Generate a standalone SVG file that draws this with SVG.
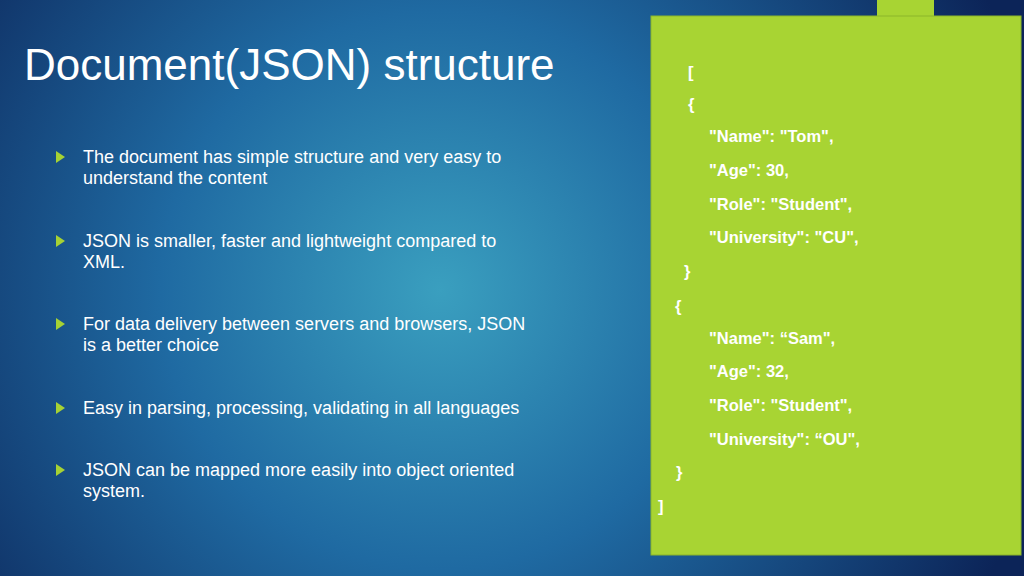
<svg xmlns="http://www.w3.org/2000/svg" width="1024" height="576" viewBox="0 0 1024 576">
<defs>
<radialGradient id="bg" cx="440" cy="290" r="620" gradientUnits="userSpaceOnUse">
<stop offset="0" stop-color="#3a9fbf"/>
<stop offset="0.45" stop-color="#1f6aa2"/>
<stop offset="1" stop-color="#0c2458"/>
</radialGradient>
<style>
.b{font-family:"Liberation Sans",Arial,sans-serif;font-size:18px;fill:#fff}
.j{font-family:"Liberation Sans",Arial,sans-serif;font-size:16.5px;font-weight:bold;fill:#fff}
.t{fill:#a6d234}
</style>
</defs>
<rect width="1024" height="576" fill="url(#bg)"/>
<text x="24" y="80" font-family="'Liberation Sans',Arial,sans-serif" font-size="44" fill="#fff">Document(JSON) structure</text>
<g id="bullets">
<polygon class="t" points="56,151 56,163 65,157"/>
<text class="b" x="83" y="163">The document has simple structure and very easy to</text>
<text class="b" x="83" y="184">understand the content</text>
<polygon class="t" points="56,235 56,247 65,241"/>
<text class="b" x="83" y="247">JSON is smaller, faster and lightweight compared to</text>
<text class="b" x="83" y="268">XML.</text>
<polygon class="t" points="56,318 56,330 65,324"/>
<text class="b" x="83" y="330">For data delivery between servers and browsers, JSON</text>
<text class="b" x="83" y="351">is a better choice</text>
<polygon class="t" points="56,402 56,414 65,408"/>
<text class="b" x="83" y="414">Easy in parsing, processing, validating in all languages</text>
<polygon class="t" points="56,464 56,476 65,470"/>
<text class="b" x="83" y="476">JSON can be mapped more easily into object oriented</text>
<text class="b" x="83" y="497">system.</text>
</g>
<g id="json">
<rect x="877" y="0" width="57" height="17" fill="#a8d433"/>
<rect x="651" y="16" width="370" height="539" fill="#a8d433" stroke="#8cb52a" stroke-width="1"/>
<text class="j" x="688" y="78">[</text>
<text class="j" x="688" y="110">{</text>
<text class="j" x="709" y="142">"Name": "Tom",</text>
<text class="j" x="709" y="176">"Age": 30,</text>
<text class="j" x="709" y="210">"Role": "Student",</text>
<text class="j" x="709" y="243">"University": "CU",</text>
<text class="j" x="684" y="277">}</text>
<text class="j" x="675" y="312">{</text>
<text class="j" x="709" y="344">"Name": “Sam",</text>
<text class="j" x="709" y="377">"Age": 32,</text>
<text class="j" x="709" y="411">"Role": "Student",</text>
<text class="j" x="709" y="445">"University": “OU",</text>
<text class="j" x="676" y="478">}</text>
<text class="j" x="658" y="512">]</text>
</g>
</svg>
